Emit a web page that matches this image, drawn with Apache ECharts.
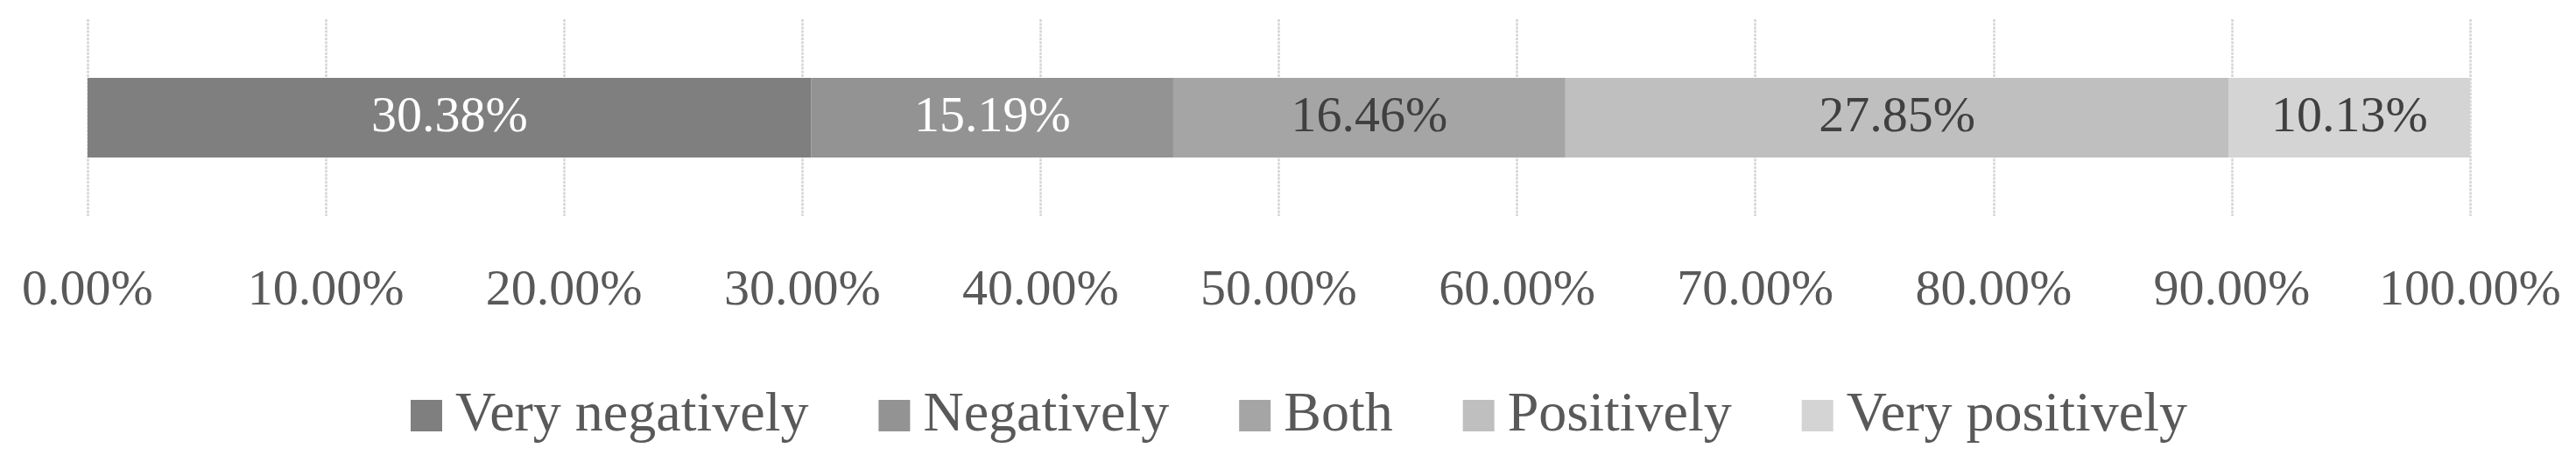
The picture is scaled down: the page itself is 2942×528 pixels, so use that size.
<!DOCTYPE html>
<html>
<head>
<meta charset="utf-8">
<script src="https://cdn.jsdelivr.net/npm/echarts@6/dist/echarts.min.js"></script>
<style>
html,body{margin:0;padding:0;background:#fff;}
#chart{width:2942px;height:528px;}
</style>
</head>
<body>
<div id="chart"></div>
<script>
var categories = [''];
var seriesNames = ['Very negatively', 'Negatively', 'Both', 'Positively', 'Very positively'];
var veryNegatively = [30.38];
var negatively = [15.19];
var both = [16.46];
var positively = [27.85];
var veryPositively = [10.13];
var tickValues = [0, 10, 20, 30, 40, 50, 60, 70, 80, 90, 100];

var seriesValues = [veryNegatively, negatively, both, positively, veryPositively];
var barColors = ['#7f7f7f', '#939393', '#a5a5a5', '#bfbfbf', '#d4d4d4'];
var labelColors = ['#ffffff', '#ffffff', '#404040', '#404040', '#404040'];
var FONT = "'Liberation Serif', 'Times New Roman', serif";

var chart = echarts.init(document.getElementById('chart'), null, {renderer: 'canvas'});
var series = seriesNames.map(function (name, i) {
  return {
    name: name,
    type: 'bar',
    stack: 'total',
    barWidth: 91,
    data: seriesValues[i],
    itemStyle: {color: barColors[i]},
    label: {
      show: true,
      position: 'inside',
      fontFamily: FONT,
      fontSize: 58,
      color: labelColors[i],
      formatter: function (p) { return p.value.toFixed(2) + '%'; }
    },
    emphasis: {disabled: true}
  };
});

chart.setOption({
  animation: false,
  backgroundColor: '#ffffff',
  grid: {left: 100, right: 121, top: 22, bottom: 281, containLabel: false},
  xAxis: {
    type: 'value',
    min: tickValues[0],
    max: tickValues[tickValues.length - 1],
    interval: tickValues[1] - tickValues[0],
    axisLine: {show: false},
    axisTick: {show: false},
    axisLabel: {
      margin: 57,
      fontFamily: FONT,
      fontSize: 58,
      color: '#595959',
      formatter: function (v) { return v.toFixed(2) + '%'; }
    },
    splitLine: {show: true, lineStyle: {color: '#d4d4d4', width: 2.5, type: [3, 1.2]}}
  },
  yAxis: {
    type: 'category',
    data: categories,
    axisLine: {show: false},
    axisTick: {show: false},
    axisLabel: {show: false},
    splitLine: {show: false}
  },
  legend: {
    data: seriesNames,
    left: 464,
    top: 438,
    icon: 'rect',
    itemWidth: 36,
    itemHeight: 36,
    itemGap: 80,
    selectedMode: false,
    textStyle: {fontFamily: FONT, fontSize: 64, color: '#595959', padding: [0, 0, 0, 10]}
  },
  series: series
});
</script>
</body>
</html>
